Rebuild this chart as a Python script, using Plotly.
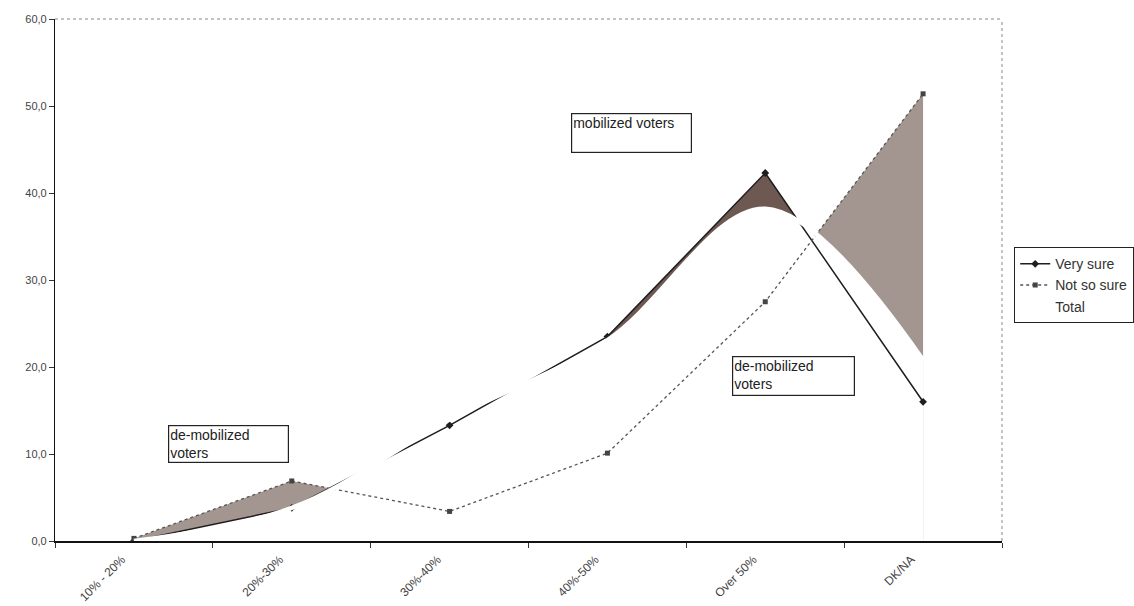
import plotly.graph_objects as go

# ---- data ----
categories = ["10% - 20%", "20%-30%", "30%-40%", "40%-50%", "Over 50%", "DK/NA"]
very_sure = [0.0, 3.8, 13.3, 23.5, 42.3, 16.0]
not_so_sure = [0.3, 6.9, 3.4, 10.1, 27.5, 51.4]
total = [0.0, 3.8, 14.0, 23.1, 38.2, 20.8]
y_tick_values = [0, 10, 20, 30, 40, 50, 60]
y_tick_labels = ["0,0", "10,0", "20,0", "30,0", "40,0", "50,0", "60,0"]
box_texts = ["mobilized voters", "de-mobilized<br>voters", "de-mobilized<br>voters"]

x_idx = list(range(len(categories)))

W, H = 1134, 606
L, R, T, B = 55, 132, 19, 65
PW, PH = W - L - R, H - T - B

def px_x(p):
    return (p - L) / PW

def px_y(p):
    return (H - B - p) / PH

GRAY = "#a3958f"
BROWN = "#6e5852"
FONT = "Liberation Sans, Arial, sans-serif"

# regions where "Not so sure" lies above "Very sure" (derived from the data)
def gap_regions(a, b):
    regions = []
    cur_x, cur_top, cur_bot = [], [], []
    for i in range(len(a)):
        d = b[i] - a[i]
        if d >= 0:
            cur_x.append(x_idx[i]); cur_top.append(b[i]); cur_bot.append(a[i])
        if i + 1 < len(a):
            d2 = b[i + 1] - a[i + 1]
            if (d >= 0) != (d2 >= 0):
                t = d / (d - d2)
                xc = x_idx[i] + t
                yc = a[i] + t * (a[i + 1] - a[i])
                cur_x.append(xc); cur_top.append(yc); cur_bot.append(yc)
                if d >= 0:
                    regions.append((cur_x, cur_top, cur_bot))
                    cur_x, cur_top, cur_bot = [], [], []
    if cur_x:
        regions.append((cur_x, cur_top, cur_bot))
    return regions

fig = go.Figure()

# gray bands where Not so sure > Very sure
for rx, rtop, rbot in gap_regions(very_sure, not_so_sure):
    fig.add_trace(go.Scatter(x=rx + rx[::-1], y=rtop + rbot[::-1], mode="lines",
                             fill="toself", fillcolor=GRAY, line=dict(width=0, color=GRAY),
                             showlegend=False, hoverinfo="skip"))

# brown area under "Very sure" from 40-50% onward
fig.add_trace(go.Scatter(x=x_idx[3:], y=very_sure[3:], mode="lines", fill="tozeroy",
                         fillcolor=BROWN, line=dict(width=0, color=BROWN),
                         showlegend=False, hoverinfo="skip"))
# white area under smoothed Total
fig.add_trace(go.Scatter(x=x_idx, y=total, mode="lines", fill="tozeroy",
                         fillcolor="white", line=dict(width=0, color="white", shape="spline"),
                         showlegend=False, hoverinfo="skip"))

# the two lines
fig.add_trace(go.Scatter(x=x_idx, y=very_sure, name="Very sure", mode="lines+markers",
                         line=dict(color="#1e1e1e", width=1.5),
                         marker=dict(symbol="diamond", size=6, color="#1e1e1e")))
fig.add_trace(go.Scatter(x=x_idx, y=not_so_sure, name="Not so sure", mode="lines+markers",
                         line=dict(color="#555555", width=1.3, dash="dot"),
                         marker=dict(symbol="square", size=5, color="#444444")))
# Total drawn as a thick white smoothed line on top
fig.add_trace(go.Scatter(x=x_idx, y=total, name="Total", mode="lines",
                         line=dict(color="white", width=4.5, shape="spline")))

# annotation boxes
boxes = [(571, 113, 117, 36), (168, 425, 117, 34), (732, 356, 119, 36)]
for txt, (bx, by, bw, bh) in zip(box_texts, boxes):
    fig.add_annotation(xref="paper", yref="paper", x=px_x(bx), y=px_y(by),
                       xanchor="left", yanchor="top", text=txt, showarrow=False,
                       align="left", valign="top", width=bw, height=bh,
                       bordercolor="#222222", borderwidth=1.2, borderpad=1,
                       bgcolor="white", font=dict(family=FONT, size=14, color="#222222"))

# dotted top / right border of plot area
fig.add_shape(type="line", xref="paper", yref="paper", x0=0, x1=1, y0=1, y1=1,
              line=dict(color="#888888", width=1, dash="dot"))
fig.add_shape(type="line", xref="paper", yref="paper", x0=1, x1=1, y0=0, y1=1,
              line=dict(color="#888888", width=1, dash="dot"))

fig.update_layout(
    width=W, height=H,
    margin=dict(l=L, r=R, t=T, b=B, autoexpand=False),
    paper_bgcolor="white", plot_bgcolor="white",
    font=dict(family=FONT, size=11, color="#333333"),
    legend=dict(x=px_x(1014), y=px_y(247), xanchor="left", yanchor="top",
                traceorder="normal",
                bordercolor="#222222", borderwidth=1.2, bgcolor="white",
                font=dict(family=FONT, size=14, color="#333333"),
                itemwidth=30, tracegroupgap=0),
    xaxis=dict(range=[-0.5, 5.5], tickvals=x_idx, ticktext=categories, showgrid=False,
               showline=True, linecolor="#111111", linewidth=1.5,
               ticks="", tickangle=-45, ticklabelstandoff=5, ticklabelshift=-12,
               tickfont=dict(size=12, color="#444444"), zeroline=False,
               minor=dict(tick0=0.5, dtick=1, ticks="outside", ticklen=5,
                          tickcolor="#333333", showgrid=False)),
    yaxis=dict(range=[0, 60], tickvals=y_tick_values, ticktext=y_tick_labels,
               showgrid=False, zeroline=False, showline=True, linecolor="#111111",
               linewidth=1.2, ticks="outside", ticklen=5, tickcolor="#333333",
               tickfont=dict(size=11, color="#444444")),
)

fig.write_html("out.html")
